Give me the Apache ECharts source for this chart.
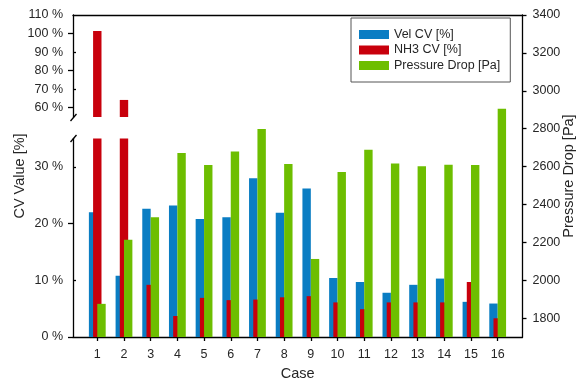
<!DOCTYPE html>
<html>
<head>
<meta charset="utf-8">
<script src="https://cdn.jsdelivr.net/npm/echarts@6/dist/echarts.min.js"></script>
<style>
html,body{margin:0;padding:0;background:#fff;}
#chart{width:585px;height:382px;}
</style>
</head>
<body>
<div id="chart"></div>
<script>
// ---- data ----
const cases = [1, 2, 3, 4, 5, 6, 7, 8, 9, 10, 11, 12, 13, 14, 15, 16];
const velCV = [22.0, 10.8, 22.6, 23.2, 20.8, 21.1, 28.0, 21.9, 26.2, 10.4, 9.7, 7.8, 9.2, 10.3, 6.2, 5.9];
const nh3CV = [101.4, 64.2, 9.2, 3.7, 6.9, 6.5, 6.6, 7.0, 7.2, 6.1, 4.9, 6.1, 6.1, 6.1, 9.7, 3.3];
const pressureDrop = [1875, 2214, 2332, 2672, 2608, 2680, 2798, 2614, 2112, 2571, 2689, 2616, 2602, 2610, 2608, 2905];
const cvTicksTop = [60, 70, 80, 90, 100, 110];
const cvTicksBottom = [0, 10, 20, 30];
const pressureTicks = [1800, 2000, 2200, 2400, 2600, 2800, 3000, 3200, 3400];
const seriesNames = ['Vel CV [%]', 'NH3 CV [%]', 'Pressure Drop [Pa]'];
const axisTitles = { left: 'CV Value [%]', right: 'Pressure Drop [Pa]', bottom: 'Case' };

// ---- styling ----
const C_BLUE = '#0a7dc3', C_RED = '#c8000c', C_GREEN = '#6dbe00';
const TXT = '#262626';
const FONT = 'Liberation Sans, Arial, sans-serif';
const BREAK_TOP = 55, BREAK_BOTTOM = 35;

const pairs = (vals) => cases.map((c, i) => [c, vals[i]]);
const topPairs = cases.map((c, i) => [c, nh3CV[i]]).filter(p => p[1] > BREAK_TOP);

const gridBase = { left: 73, right: 62.5, containLabel: false, outerBoundsMode: 'none' };
const xBase = { type: 'value', min: 0.09, max: 16.93, splitLine: { show: false } };
const barBase = { type: 'bar', barWidth: 8.4, barGap: '-50%', animation: false, clip: true };

const lineStyle = { color: '#000', width: 1.3 };
const labelStyle = { color: TXT, fontFamily: FONT, fontSize: 12.5 };

const chart = echarts.init(document.getElementById('chart'), null, { renderer: 'canvas' });
chart.setOption({
  animation: false,
  backgroundColor: '#fff',
  textStyle: { fontFamily: FONT },
  grid: [
    Object.assign({ top: 15, height: 102 }, gridBase),
    Object.assign({ top: 138.5, bottom: 45 }, gridBase),
    Object.assign({ top: 15, bottom: 45 }, gridBase)
  ],
  legend: {
    orient: 'vertical',
    left: 351, top: 18,
    padding: [10, 10, 10, 8],
    itemWidth: 30, itemHeight: 9, itemGap: 2.5,
    borderColor: '#555', borderWidth: 1,
    icon: 'rect',
    textStyle: { color: TXT, fontFamily: FONT, fontSize: 12.5 },
    data: seriesNames
  },
  xAxis: [
    Object.assign({}, xBase, { gridIndex: 0, position: 'top', axisLine: { show: true, lineStyle }, axisTick: { show: false }, axisLabel: { show: false } }),
    Object.assign({}, xBase, { gridIndex: 1, show: false }),
    Object.assign({}, xBase, {
      gridIndex: 2, position: 'bottom',
      axisLine: { show: true, onZero: false, lineStyle },
      axisTick: { show: true, length: 4, customValues: cases, lineStyle },
      axisLabel: Object.assign({ margin: 11, customValues: cases }, labelStyle),
      name: axisTitles.bottom, nameLocation: 'middle', nameGap: 29,
      nameTextStyle: { color: TXT, fontFamily: FONT, fontSize: 14.5 }
    })
  ],
  yAxis: [
    { gridIndex: 0, type: 'value', min: BREAK_TOP, max: 110, position: 'left',
      axisLine: { show: true, lineStyle }, splitLine: { show: false },
      axisTick: { show: true, length: 5, customValues: [60, 80, 100], lineStyle },
      axisLabel: Object.assign({ margin: 10, customValues: cvTicksTop, formatter: v => v + ' %' }, labelStyle) },
    { gridIndex: 0, type: 'value', min: BREAK_TOP, max: 110, position: 'left',
      axisLine: { show: false }, splitLine: { show: false }, axisLabel: { show: false },
      axisTick: { show: true, inside: true, length: 3, customValues: [70, 90], lineStyle } },
    { gridIndex: 1, type: 'value', min: 0, max: BREAK_BOTTOM, position: 'left',
      axisLine: { show: true, lineStyle }, splitLine: { show: false },
      axisTick: { show: true, length: 5, customValues: [0, 20], lineStyle },
      axisLabel: Object.assign({ margin: 10, customValues: cvTicksBottom, formatter: v => v + ' %' }, labelStyle) },
    { gridIndex: 1, type: 'value', min: 0, max: BREAK_BOTTOM, position: 'left',
      axisLine: { show: false }, splitLine: { show: false }, axisLabel: { show: false },
      axisTick: { show: true, inside: true, length: 3, customValues: [10, 30], lineStyle } },
    { gridIndex: 2, type: 'value', min: 1700, max: 3400, position: 'right',
      axisLine: { show: true, lineStyle }, splitLine: { show: false },
      axisTick: { show: true, length: 4, customValues: pressureTicks, lineStyle },
      axisLabel: Object.assign({ margin: 10, customValues: pressureTicks, formatter: v => String(v) }, labelStyle) }
  ],
  series: [
    // top segment (broken axis, upper part)
    Object.assign({}, barBase, { name: seriesNames[0], xAxisIndex: 0, yAxisIndex: 0, itemStyle: { color: C_BLUE }, data: [] }),
    Object.assign({}, barBase, { name: seriesNames[1], xAxisIndex: 0, yAxisIndex: 0, itemStyle: { color: C_RED }, data: topPairs }),
    Object.assign({}, barBase, { name: seriesNames[2], xAxisIndex: 0, yAxisIndex: 0, itemStyle: { color: C_GREEN }, data: [] }),
    // bottom segment
    Object.assign({}, barBase, { name: seriesNames[0], xAxisIndex: 1, yAxisIndex: 2, itemStyle: { color: C_BLUE }, data: pairs(velCV) }),
    Object.assign({}, barBase, { name: seriesNames[1], xAxisIndex: 1, yAxisIndex: 2, itemStyle: { color: C_RED }, data: pairs(nh3CV) }),
    Object.assign({}, barBase, { name: seriesNames[2], xAxisIndex: 1, yAxisIndex: 2, itemStyle: { color: C_GREEN }, data: [] }),
    // pressure drop on right axis (full height)
    Object.assign({}, barBase, { name: seriesNames[0], xAxisIndex: 2, yAxisIndex: 4, itemStyle: { color: C_BLUE }, data: [] }),
    Object.assign({}, barBase, { name: seriesNames[1], xAxisIndex: 2, yAxisIndex: 4, itemStyle: { color: C_RED }, data: [] }),
    Object.assign({}, barBase, { name: seriesNames[2], xAxisIndex: 2, yAxisIndex: 4, itemStyle: { color: C_GREEN }, data: pairs(pressureDrop) })
  ],
  graphic: [
    { type: 'text', x: 19.5, y: 176, rotation: Math.PI / 2,
      style: { text: axisTitles.left, fill: TXT, font: '14.5px Liberation Sans, Arial, sans-serif', align: 'center', verticalAlign: 'middle' } },
    { type: 'text', x: 569, y: 176, rotation: Math.PI / 2,
      style: { text: axisTitles.right, fill: TXT, font: '14.5px Liberation Sans, Arial, sans-serif', align: 'center', verticalAlign: 'middle' } },
    { type: 'line', shape: { x1: 70.5, y1: 121, x2: 76.5, y2: 114 }, style: { stroke: '#000', lineWidth: 1.3 } },
    { type: 'line', shape: { x1: 70.5, y1: 142, x2: 76.5, y2: 135 }, style: { stroke: '#000', lineWidth: 1.3 } }
  ]
});
</script>
</body>
</html>
